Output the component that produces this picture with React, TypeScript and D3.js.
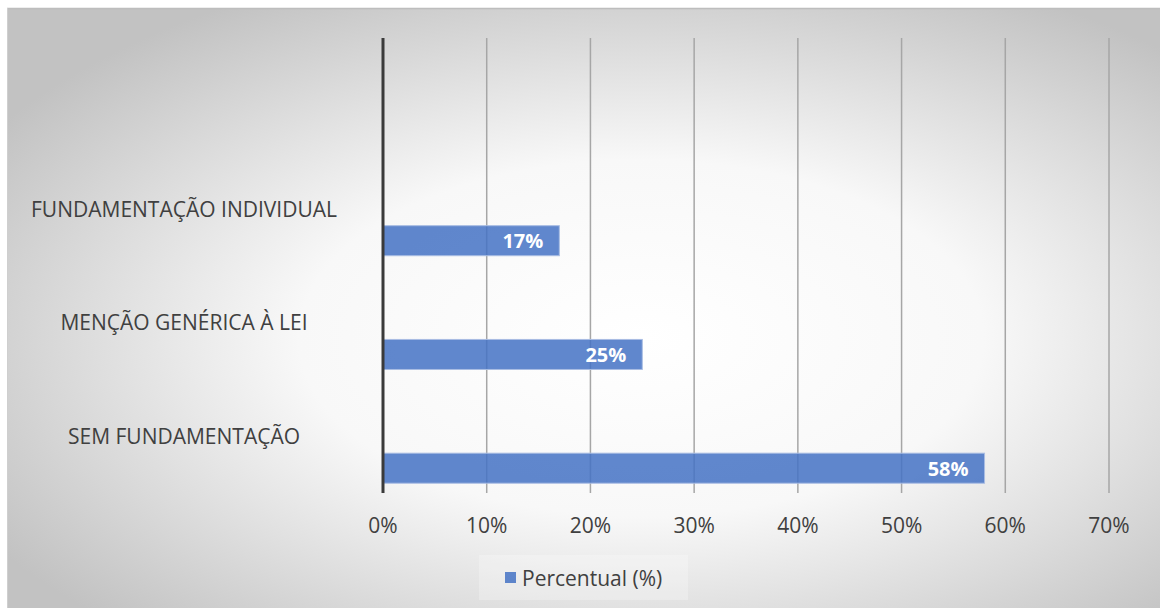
import React from "react";
import * as d3 from "d3";

const categories = ["", "FUNDAMENTAÇÃO INDIVIDUAL", "MENÇÃO GENÉRICA À LEI", "SEM FUNDAMENTAÇÃO"];
const values: (number | null)[] = [null, 0.17, 0.25, 0.58];
const xTicks = [0, 0.1, 0.2, 0.3, 0.4, 0.5, 0.6, 0.7];
const seriesName = "Percentual (%)";

const W = 1160;
const H = 608;
const FONT = "'Open Sans', 'DejaVu Sans', sans-serif";

export default function App() {
  const x = d3.scaleLinear().domain([0, 0.7]).range([383, 1109]);
  const y = d3.scaleBand<string>().domain(categories.map((c, i) => String(i))).range([38, 493]).padding(0);
  const bw = y.bandwidth();
  const fmt = d3.format(".0%");

  return (
    <svg width={W} height={H} style={{ position: "absolute", left: 0, top: 0 }}>
      <defs>
        <radialGradient id="bg" cx="0.55" cy="0.55" r="0.66" gradientUnits="objectBoundingBox">
          <stop offset="0" stopColor="#ffffff" />
          <stop offset="0.45" stopColor="#f8f8f8" />
          <stop offset="1" stopColor="#c2c2c2" />
        </radialGradient>
      </defs>
      <rect x={7} y={8} width={W - 7} height={H - 8} fill="url(#bg)" />
      <line x1={7} x2={W} y1={8.5} y2={8.5} stroke="#bdbdbd" strokeWidth={1.5} />
      <line x1={7.5} x2={7.5} y1={8} y2={H} stroke="#cfcfcf" strokeWidth={1} />

      {xTicks.slice(1).map((t) => (
        <line key={t} x1={x(t)} x2={x(t)} y1={38} y2={493} stroke="#a6a6a6" strokeWidth={1.5} />
      ))}

      {categories.map((c, i) =>
        c ? (
          <text
            key={c}
            x={184}
            y={(y(String(i)) as number) + bw / 2}
            textAnchor="middle"
            dominantBaseline="central"
            fontFamily={FONT}
            fontSize={21}
            fill="#404040"
          >
            {c}
          </text>
        ) : null
      )}

      {values.map((v, i) => {
        if (v == null) return null;
        const top = (y(String(i)) as number) + bw * 0.65;
        const h = bw * 0.264;
        return (
          <g key={i}>
            <rect
              x={x(0)}
              y={top}
              width={x(v) - x(0)}
              height={h}
              fill="#4472C4"
              fillOpacity={0.85}
              stroke="#a9bde3"
              strokeWidth={1}
            />
            <text
              x={x(v) - 16}
              y={top + h / 2}
              textAnchor="end"
              dominantBaseline="central"
              fontFamily={FONT}
              fontSize={20}
              fontWeight={700}
              fill="#ffffff"
            >
              {fmt(v)}
            </text>
          </g>
        );
      })}

      <line x1={x(0)} x2={x(0)} y1={38} y2={493} stroke="#3a3a3a" strokeWidth={3} />

      {xTicks.map((t) => (
        <text
          key={t}
          x={x(t)}
          y={525}
          textAnchor="middle"
          dominantBaseline="central"
          fontFamily={FONT}
          fontSize={21}
          fill="#404040"
        >
          {fmt(t)}
        </text>
      ))}

      <rect x={479} y={555} width={209} height={45} fill="#ffffff" fillOpacity={0.25} />
      <rect x={505} y={572} width={11} height={11} fill="#4472C4" fillOpacity={0.85} />
      <text x={522} y={578} dominantBaseline="central" fontFamily={FONT} fontSize={21} fill="#404040">
        {seriesName}
      </text>
    </svg>
  );
}
